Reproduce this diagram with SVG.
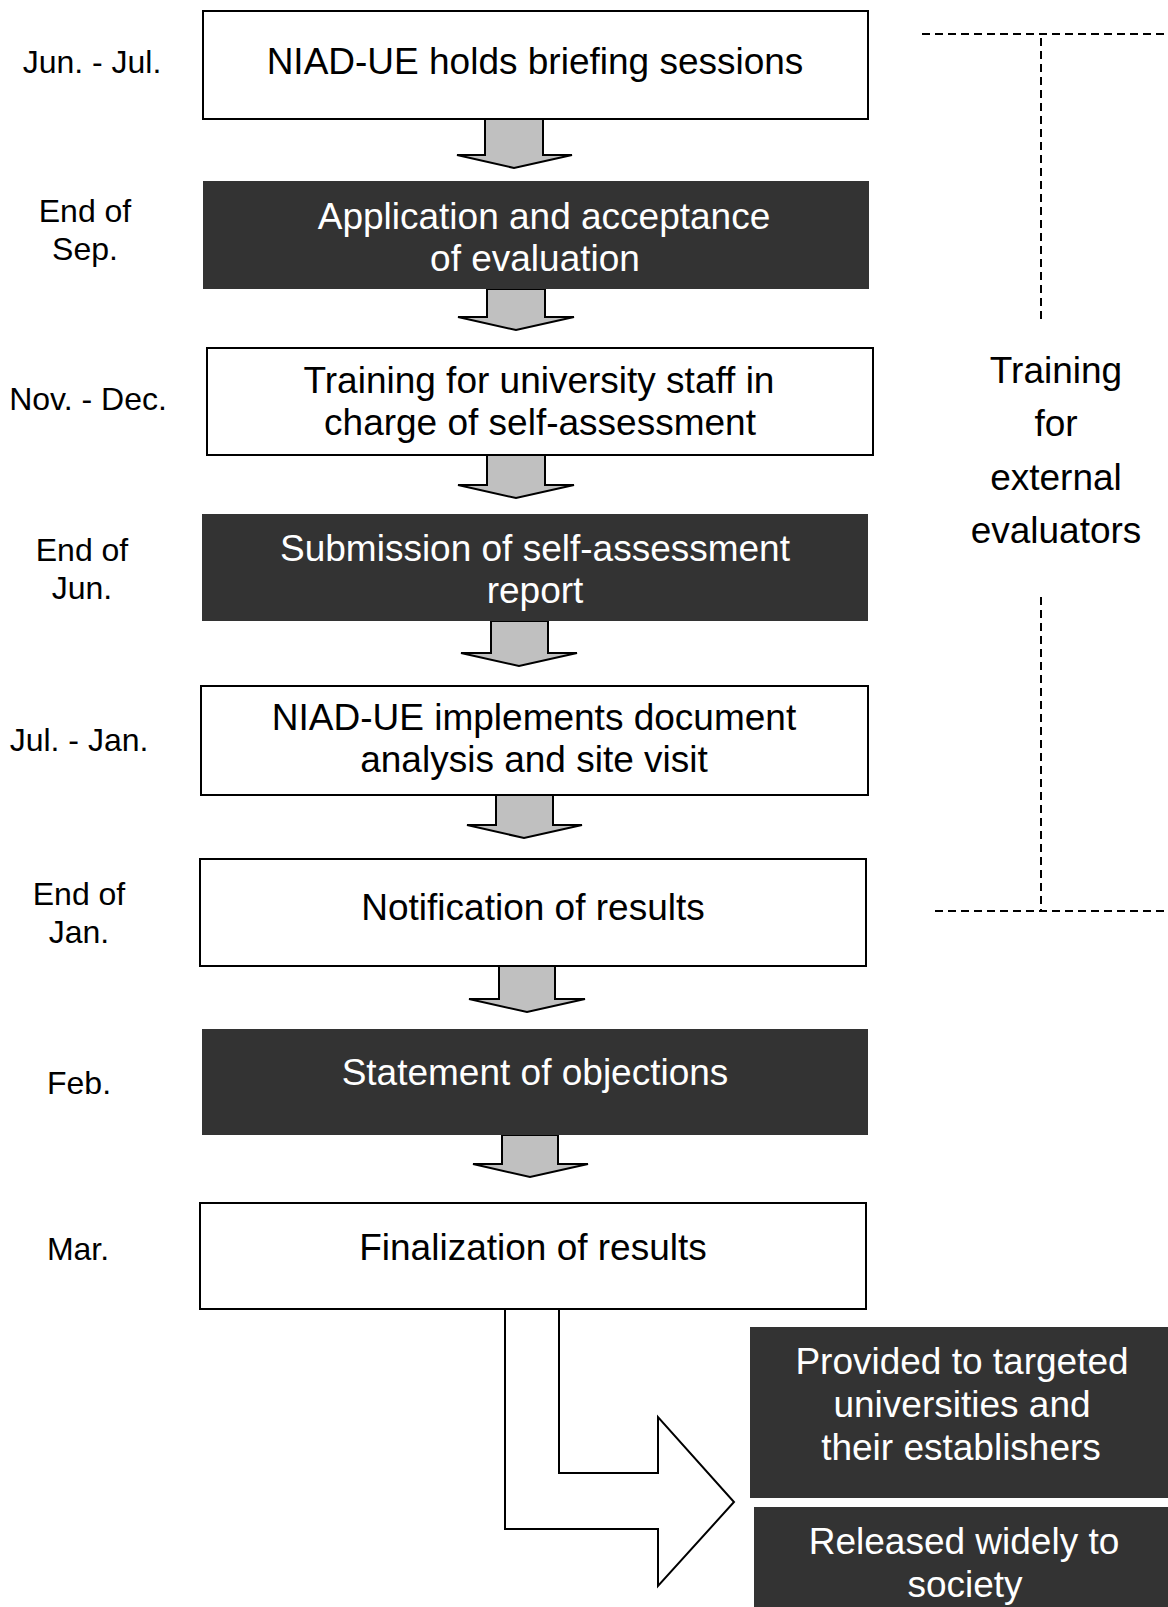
<svg xmlns="http://www.w3.org/2000/svg" width="1168" height="1607" viewBox="0 0 1168 1607">
<style>
text{font-family:"Liberation Sans",Arial,sans-serif;text-anchor:middle}
.main{font-size:37px}
.lbl{font-size:32px;fill:#000}
.w rect{fill:#fff;stroke:#000;stroke-width:2}
.d rect{fill:#333333;stroke:none}
.w text{fill:#000}
.d text{fill:#fff}
.arr{fill:#c0c0c0;stroke:#000;stroke-width:2;stroke-linejoin:miter}
.big{fill:#fff;stroke:#000;stroke-width:2;stroke-linejoin:miter}
.dash{fill:none;stroke:#000;stroke-width:2;stroke-dasharray:8 5}
</style>
<rect width="1168" height="1607" fill="#fff"/>

<g id="labels">
<text class="lbl" x="92" y="73">Jun. - Jul.</text>
<text class="lbl" x="85" y="222">End of</text>
<text class="lbl" x="85" y="260">Sep.</text>
<text class="lbl" x="88" y="410">Nov. - Dec.</text>
<text class="lbl" x="82" y="561">End of</text>
<text class="lbl" x="82" y="599">Jun.</text>
<text class="lbl" x="79" y="751">Jul. - Jan.</text>
<text class="lbl" x="79" y="905">End of</text>
<text class="lbl" x="79" y="943">Jan.</text>
<text class="lbl" x="79" y="1094">Feb.</text>
<text class="lbl" x="78" y="1260">Mar.</text>
</g>

<g id="connectors">
<polygon class="arr" points="485,119 485,155 457,155 514,168 572,155 543,155 543,119"/>
<polygon class="arr" points="487,289 487,317 458,317 516,330 574,317 545,317 545,289"/>
<polygon class="arr" points="487,455 487,485 458,485 516,498 574,485 545,485 545,455"/>
<polygon class="arr" points="491,621 491,653 461,653 519,666 577,653 548,653 548,621"/>
<polygon class="arr" points="496,795 496,825 467,825 524,838 582,825 553,825 553,795"/>
<polygon class="arr" points="499,966 499,999 469,999 527,1012 585,999 555,999 555,966"/>
<polygon class="arr" points="502,1135 502,1164 473,1164 530,1177 588,1164 558,1164 558,1135"/>
<polygon class="big" points="505,1309 505,1529 658,1529 658,1586 734,1502 658,1417 658,1473 559,1473 559,1309"/>
</g>

<g id="node1" class="w">
<rect x="203" y="11" width="665" height="108"/>
<text class="main" x="535" y="74">NIAD-UE holds briefing sessions</text>
</g>
<g id="node2" class="d">
<rect x="203" y="181" width="666" height="108"/>
<text class="main" x="544" y="229">Application and acceptance</text>
<text class="main" x="535" y="271">of evaluation</text>
</g>
<g id="node3" class="w">
<rect x="207" y="348" width="666" height="107"/>
<text class="main" x="539" y="393">Training for university staff in</text>
<text class="main" x="540" y="435">charge of self-assessment</text>
</g>
<g id="node4" class="d">
<rect x="202" y="514" width="666" height="107"/>
<text class="main" x="535" y="561">Submission of self-assessment</text>
<text class="main" x="535" y="603">report</text>
</g>
<g id="node5" class="w">
<rect x="201" y="686" width="667" height="109"/>
<text class="main" x="534" y="730">NIAD-UE implements document</text>
<text class="main" x="534" y="772">analysis and site visit</text>
</g>
<g id="node6" class="w">
<rect x="200" y="859" width="666" height="107"/>
<text class="main" x="533" y="920">Notification of results</text>
</g>
<g id="node7" class="d">
<rect x="202" y="1029" width="666" height="106"/>
<text class="main" x="535" y="1085">Statement of objections</text>
</g>
<g id="node8" class="w">
<rect x="200" y="1203" width="666" height="106"/>
<text class="main" x="533" y="1260">Finalization of results</text>
</g>
<g id="node9" class="d">
<rect x="750" y="1327" width="418" height="171"/>
<text class="main" x="962" y="1374">Provided to targeted</text>
<text class="main" x="962" y="1417">universities and</text>
<text class="main" x="961" y="1460">their establishers</text>
</g>
<g id="node10" class="d">
<rect x="754" y="1507" width="414" height="100"/>
<text class="main" x="964" y="1554">Released widely to</text>
<text class="main" x="965" y="1597">society</text>
</g>

<g id="bracket">
<line class="dash" x1="922" y1="34" x2="1168" y2="34"/>
<line class="dash" x1="1041" y1="38" x2="1041" y2="319"/>
<line class="dash" x1="1041" y1="597" x2="1041" y2="911"/>
<line class="dash" x1="935" y1="911" x2="1168" y2="911"/>
<text class="main" x="1056" y="383">Training</text>
<text class="main" x="1056" y="436">for</text>
<text class="main" x="1056" y="490">external</text>
<text class="main" x="1056" y="543">evaluators</text>
</g>
</svg>
